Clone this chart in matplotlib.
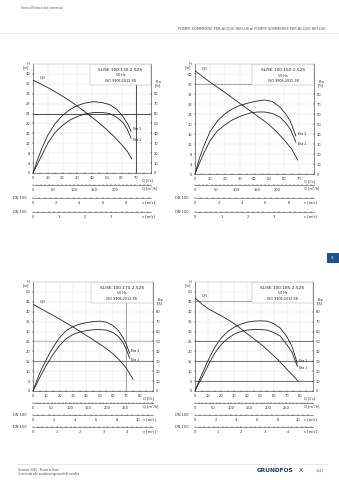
import numpy as np
import matplotlib.pyplot as plt
from matplotlib.patches import Rectangle

W, H = 339, 480

# ---- dati ----
models = ['SL/SE 100.130.2.52S', 'SL/SE 100.150.2.52S',
          'SL/SE 100.170.2.52S', 'SL/SE 100.185.2.52S']

# curva QH  [Q l/s, H m]
q_qh1 = [0, 5, 10, 15, 20, 25, 30, 35, 40, 45, 50, 55, 60, 64, 67]
h_qh1 = [37.5, 36, 34.5, 32.8, 31, 29.1, 27, 24.8, 22.5, 20.1, 17.5, 14.7, 11.5, 8.7, 5.7]
q_qh2 = [0, 5, 10, 15, 20, 25, 30, 35, 40, 45, 50, 55, 60, 65, 69]
h_qh2 = [41.3, 39, 36.8, 34.7, 32.7, 30.5, 28.3, 26.2, 24, 21.9, 19.6, 16.8, 13.6, 10, 5.6]
q_qh3 = [0, 5, 10, 15, 20, 25, 30, 35, 40, 45, 50, 55, 60, 65, 70, 75]
h_qh3 = [43.8, 41.9, 40, 38.2, 36.3, 34.3, 32.3, 30.2, 28, 25.9, 23.7, 21.4, 18.8, 15.5, 11.5, 6]
q_qh4 = [0, 5, 10, 15, 20, 25, 30, 35, 40, 45, 50, 55, 60, 65, 70, 75, 78.5]
h_qh4 = [47, 44, 41.5, 39.7, 38, 36, 33.9, 31.4, 28.8, 26.3, 23.7, 20.9, 17.8, 14.6, 11, 7.6, 5.1]

# rendimenti [Q l/s, Eta %]
q_eta1 = [0, 3, 6, 10, 15, 20, 25, 30, 35, 41, 47, 52, 57, 61, 64, 66.5]
eta2_1 = [0, 13, 25, 38, 50, 58, 64, 68, 70.5, 72, 71, 69, 64, 57, 50, 42]
eta1_1 = [0, 9, 18, 30, 41, 48, 53.5, 57, 59.5, 61, 61, 60, 56, 51, 44, 35]
q_eta2 = [0, 3, 6, 10, 15, 20, 25, 30, 37, 42, 47, 52, 57, 61, 64, 67.8]
eta2_2 = [0, 16, 28, 42, 53, 60, 65, 68.5, 71.5, 73, 74, 72.5, 67, 60, 53, 38]
eta1_2 = [0, 11, 21, 33, 43, 49, 54, 57.5, 61, 62, 62, 60.5, 57, 51, 45, 32]
q_eta3 = [0, 3, 6, 10, 15, 20, 25, 30, 35, 40, 45, 50, 55, 60, 64, 67.5, 70, 72.5]
eta2_3 = [0, 11, 21, 32, 44, 54, 61, 65, 67.5, 69, 70, 70.5, 69.5, 66, 61, 54, 47, 38]
eta1_3 = [0, 8, 16, 26, 37, 46, 53, 57, 59.5, 61, 61.8, 62, 61.5, 59, 55, 49, 42, 33]
q_eta4 = [0, 3, 6, 10, 15, 20, 25, 30, 35, 40, 45, 50, 55, 60, 65, 70, 74, 78]
eta2_4 = [0, 10, 19, 31, 44, 53.5, 60, 64.5, 67.5, 69.5, 70.5, 70.8, 70.5, 68, 63.5, 55, 45, 28]
eta1_4 = [0, 8, 15, 26, 38, 47, 53, 57.5, 60, 61.5, 62, 62, 61.5, 59, 55.5, 47, 39, 25]

q_ticks_top = [0, 10, 20, 30, 40, 50, 60, 70]
q_ticks_bot = [0, 10, 20, 30, 40, 50, 60, 70, 80]
m3h_top = [0, 50, 100, 150, 200]
m3h_bot = [0, 50, 100, 150, 200, 250]
v100_top = [0, 2, 4, 6, 8]
v100_bot = [0, 2, 4, 6, 8, 10]
v150_top = [0, 1, 2, 3]
v150_bot = [0, 1, 2, 3, 4]

# conversioni l/s -> m3/h e velocita' nei tubi DN100 / DN150
K_M3H = 3.6
K_DN100 = 0.001 / (np.pi * 0.05 ** 2)
K_DN150 = 0.001 / (np.pi * 0.075 ** 2)

INK = '#222222'
GRID = '#e2e2e2'
TXT = '#333333'
FS = 2.6

fig = plt.figure(figsize=(W / 100, H / 100), dpi=100)


def frect(x0, y0, x1, y1):
    return [x0 / W, 1 - y1 / H, (x1 - x0) / W, (y1 - y0) / H]


def scale_axis(x0, x1, y, xmax, ticks, minor, unit, dn=None):
    a = fig.add_axes([x0 / W, 1 - y / H, (x1 - x0) / W, 1e-4])
    a.patch.set_visible(False)
    a.set_xlim(0, xmax)
    a.set_yticks([])
    for s in ['left', 'right', 'top']:
        a.spines[s].set_visible(False)
    a.spines['bottom'].set_linewidth(0.4)
    a.spines['bottom'].set_color('#444444')
    a.set_xticks(ticks)
    a.set_xticks(minor, minor=True)
    a.tick_params(axis='x', labelsize=FS, length=2, width=0.3, direction='inout',
                  pad=1.2, colors=TXT)
    a.tick_params(axis='x', which='minor', length=1.2, width=0.25, direction='inout')
    fig.text((x0 + (x1 - x0) * 0.92) / W, 1 - (y + 4.6) / H, unit, fontsize=FS,
             ha='left', va='center', color=TXT)
    if dn:
        fig.text((x0 - 6) / W, 1 - y / H, dn, fontsize=FS, ha='right',
                 va='center', color=TXT)
    return a


def panel(rect, model, qmax, hmax, hstep, qticks, qqh, hqh, qeta, e2, e1,
          rows, m3h, v100, v150, extra):
    x0, y0, x1, y1 = rect
    ax = fig.add_axes(frect(*rect))
    ax.set_xlim(0, qmax)
    ax.set_ylim(0, hmax)
    hticks = list(range(0, int(hmax) - hstep + 1, hstep))
    ax.set_yticks(hticks)
    ax.set_xticks(qticks)
    ax.set_xticks(np.arange(0, qmax, 5), minor=True)
    ax.grid(True, color=GRID, lw=0.35)
    ax.tick_params(labelsize=FS, length=1.6, width=0.3, pad=1.2, direction='inout',
                   colors=TXT)
    ax.tick_params(which='minor', length=1, width=0.25, direction='inout')
    for s in ['left', 'bottom']:
        ax.spines[s].set_linewidth(0.45)
        ax.spines[s].set_color('#444444')
    ax.spines['top'].set_linewidth(0.35)
    ax.spines['top'].set_color('#aaaaaa')
    ax.spines['right'].set_visible(False)
    ax.set_axisbelow(True)
    for kind, val, c, lw, a0, a1 in extra:
        if kind == 'h':
            ax.axhline(val, a0, a1, color=c, lw=lw, zorder=1)
        else:
            ax.axvline(val, a0, a1, color=c, lw=lw, zorder=1)

    ax.plot(qqh, hqh, color=INK, lw=0.6, zorder=3)
    ax.text(qqh[0] + qmax * 0.06, hqh[0] + hmax * 0.005, 'QH', fontsize=FS,
            ha='left', va='bottom', color=INK)
    ax.text(-0.03, hmax - hstep * 0.15, 'H\n[m]', transform=ax.get_yaxis_transform(),
            fontsize=FS, ha='right', va='center', linespacing=0.9, color=TXT)
    fig.text((x0 + (x1 - x0) * 0.92) / W, 1 - (y1 + 7) / H, 'Q [l/s]', fontsize=FS,
             ha='left', va='center', color=TXT)

    # asse destro rendimento: Eta [%] = H * 10 / passo
    axr = ax.twinx()
    axr.set_ylim(0, hmax * 10 / hstep)
    axr.set_yticks(range(0, 81, 10))
    axr.tick_params(labelsize=FS, length=1.6, width=0.3, pad=1.2, direction='inout',
                    colors=TXT)
    axr.spines['right'].set_linewidth(0.45)
    axr.spines['right'].set_color('#444444')
    for s in ['left', 'bottom', 'top']:
        axr.spines[s].set_visible(False)
    axr.plot(qeta, e2, color=INK, lw=0.6)
    axr.plot(qeta, e1, color=INK, lw=0.6)
    axr.text(qeta[-1] + qmax * 0.015, e2[-1] + 2, 'Eta 2', fontsize=FS - 0.3,
             ha='left', va='center', color=INK)
    axr.text(qeta[-1] + qmax * 0.015, e1[-1] - 2, 'Eta 1', fontsize=FS - 0.3,
             ha='left', va='center', color=INK)
    axr.text(1.035, 90, 'Eta\n[%]', transform=axr.get_yaxis_transform(),
             fontsize=FS, ha='left', va='center', linespacing=0.9, color=TXT)

    # riquadro titolo
    ax.add_patch(Rectangle((0.48, 0.805), 0.52, 0.195, transform=ax.transAxes,
                           fc='white', ec='#b0b0b0', lw=0.35, zorder=2))
    ax.text(0.74, 0.945, model, transform=ax.transAxes, fontsize=3.1,
            ha='center', va='center', color=INK, zorder=4)
    ax.text(0.74, 0.895, '50 Hz', transform=ax.transAxes, fontsize=2.3,
            ha='center', va='center', color=INK, zorder=4)
    ax.text(0.74, 0.845, 'ISO 9906:2012 3B', transform=ax.transAxes, fontsize=2.4,
            ha='center', va='center', color=INK, zorder=4)

    r1, r2, r3 = rows
    scale_axis(x0, x1, r1, qmax * K_M3H, m3h, np.arange(0, qmax * K_M3H, 10),
               'Q [m³/h]')
    scale_axis(x0, x1, r2, qmax * K_DN100, v100, np.arange(0, qmax * K_DN100, 0.5),
               'v [m/s]', 'DN 100')
    scale_axis(x0, x1, r3, qmax * K_DN150, v150, np.arange(0, qmax * K_DN150, 0.2),
               'v [m/s]', 'DN 150')


panel((33, 64, 151, 173), models[0], 80, 44, 4, q_ticks_top, q_qh1, h_qh1,
      q_eta1, eta2_1, eta1_1, (185, 198, 212), m3h_top, v100_top, v150_top,
      [('h', 24, '#333333', 0.6, 0, 1), ('v', 70, '#333333', 0.6, 0, 1)])
panel((195, 64, 314, 174), models[1], 80, 44, 4, q_ticks_top, q_qh2, h_qh2,
      q_eta2, eta2_2, eta1_2, (185, 198, 212), m3h_top, v100_top, v150_top,
      [('h', 36, '#777777', 0.45, 0, 0.48)])
panel((33, 282, 153, 391), models[2], 90, 55, 5, q_ticks_bot, q_qh3, h_qh3,
      q_eta3, eta2_3, eta1_3, (403, 415, 427), m3h_bot, v100_bot, v150_bot,
      [('h', 25, '#c4c4c4', 1.0, 0, 1), ('h', 15, '#555555', 0.5, 0, 1),
       ('v', 70, '#777777', 0.45, 0, 1)])
panel((195, 282, 313, 391), models[3], 90, 55, 5, q_ticks_bot, q_qh4, h_qh4,
      q_eta4, eta2_4, eta1_4, (403, 415, 427), m3h_bot, v100_bot, v150_bot,
      [('h', 25, '#444444', 0.5, 0, 1), ('h', 15, '#444444', 0.5, 0, 1),
       ('h', 5, '#444444', 0.5, 0, 1), ('h', 45.5, '#777777', 0.45, 0, 0.48)])

# intestazione e piè di pagina
fig.text(20 / W, 1 - 8 / H, "Torna all'indice dei contenuti", fontsize=2.2,
         color='#555555', va='center')
fig.text(325 / W, 1 - 28 / H,
         'POMPE SOMMERSE PER ACQUE REFLUE ► POMPE SOMMERSE PER ACQUE REFLUE',
         fontsize=2.6, color='#555555', ha='right', va='center')
fig.add_artist(plt.Line2D([0, 1], [1 - 33 / H] * 2, color='#dddddd', lw=0.5))
fig.add_artist(plt.Line2D([17 / W, 327 / W], [1 - 464 / H] * 2, color='#dddddd', lw=0.5))
fig.add_artist(Rectangle((327 / W, 1 - 263 / H), 12 / W, 10 / H,
                         transform=fig.transFigure, fc='#1f4e8c', ec='none'))
fig.text(333 / W, 1 - 258 / H, '11', fontsize=2.2, color='white',
         ha='center', va='center')
fig.text(18 / W, 1 - 470 / H, 'Gennaio 2025 - Prezzi in Euro', fontsize=2.0,
         color='#444444', va='center')
fig.text(18 / W, 1 - 474.5 / H, 'In accordo alle condizioni generali di vendita',
         fontsize=2.0, color='#444444', va='center')
fig.text(257 / W, 1 - 471 / H, 'GRUNDFOS', fontsize=4.2, fontweight='bold',
         color='#1b3a66', va='center')
fig.text(299 / W, 1 - 470 / H, 'X', fontsize=4.5, color='#1b3a66', va='center')
fig.text(316 / W, 1 - 471 / H, '1147', fontsize=2.4, color='#2a6ab0', va='center')

fig.savefig('out.png', dpi=100)
